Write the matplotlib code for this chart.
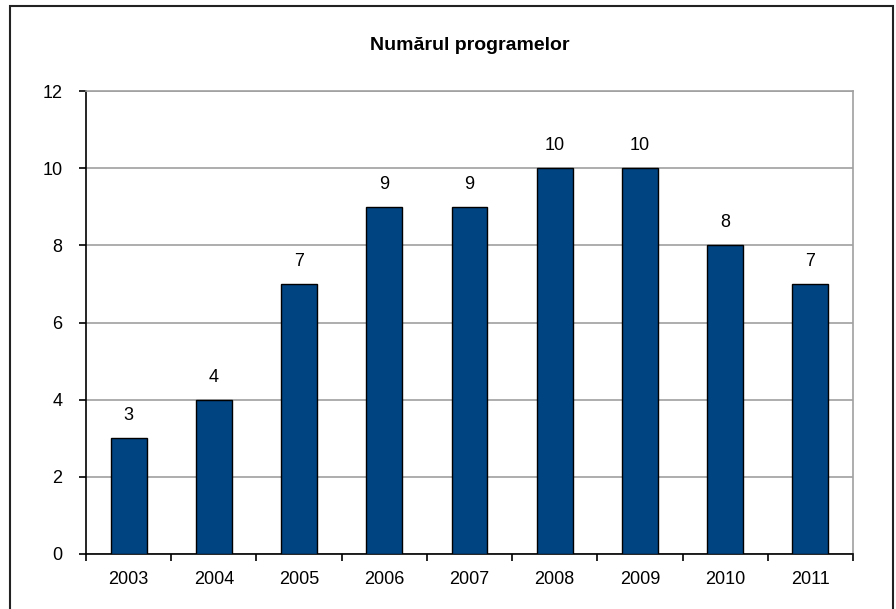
import matplotlib
matplotlib.use("Agg")
import matplotlib.pyplot as plt
from matplotlib.patches import Rectangle

years = ["2003", "2004", "2005", "2006", "2007", "2008", "2009", "2010", "2011"]
values = [3, 4, 7, 9, 9, 10, 10, 8, 7]
title = "Numărul programelor"

plt.rcParams['font.family'] = ['Liberation Sans', 'DejaVu Sans']

W, H = 896, 609
fig = plt.figure(figsize=(W / 100, H / 100), dpi=100)
fig.patch.set_facecolor('white')

# outer frame
fig.add_artist(Rectangle((10 / W, -0.05), (893 - 10) / W, 1.05 - 6 / H,
                         transform=fig.transFigure, fill=False,
                         edgecolor='#222222', linewidth=1.5))

ax = fig.add_axes([86 / W, 1 - 554 / H, (853 - 86) / W, (554 - 91) / H])
x = list(range(len(years)))
bars = ax.bar(x, values, width=0.42, color='#004481', edgecolor='black', linewidth=1.0, zorder=3)

ax.set_xlim(-0.5, len(years) - 0.5)
ax.set_ylim(0, 12)
ax.set_yticks(range(0, 13, 2))
ax.grid(axis='y', color='#a0a0a0', linewidth=1.2, zorder=0)

ax.set_xticks([i + 0.5 for i in range(-1, len(years))], minor=False)
ax.set_xticklabels([])
ax.set_xticks(x, minor=True)
ax.set_xticklabels(years, minor=True)
ax.tick_params(axis='x', which='minor', length=0, pad=12, labelsize=13)
ax.tick_params(axis='x', which='major', length=5, direction='out', width=1.2)
ax.tick_params(axis='y', length=5, direction='out', width=1.2, labelsize=13, pad=12)

for s in ['left', 'bottom']:
    ax.spines[s].set_color('black')
    ax.spines[s].set_linewidth(1.2)
for s in ['top', 'right']:
    ax.spines[s].set_color('#a0a0a0')
    ax.spines[s].set_linewidth(1.2)

for b, v in zip(bars, values):
    ax.annotate(str(v), (b.get_x() + b.get_width() / 2, v), xytext=(0, 10),
                textcoords='offset points', ha='center', va='bottom', fontsize=13)

fig.text(0.5 * (86 + 853) / W, 1 - 45 / H, title, ha='center', va='center',
         fontsize=14, fontweight='bold')

fig.savefig('out.png', dpi=100)
